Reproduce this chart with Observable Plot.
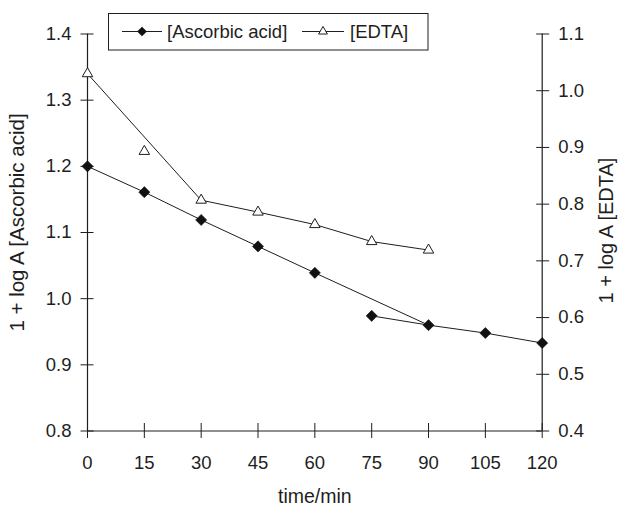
<!DOCTYPE html>
<html>
<head>
<meta charset="utf-8">
<script src="https://cdn.jsdelivr.net/npm/d3@7"></script>
<script src="https://cdn.jsdelivr.net/npm/@observablehq/plot@0.6"></script>
<style>
  body { margin: 0; background: white; }
  #wrap { position: relative; width: 619px; height: 506px; }
  #legend { position: absolute; left: 0; top: 0; }
</style>
</head>
<body>
<div id="wrap"></div>
<script>
// ---- data ----
const times = [0, 15, 30, 45, 60, 75, 90, 105, 120];
const ascorbic = [1.200, 1.161, 1.119, 1.079, 1.039, 0.974, 0.960, 0.948, 0.933];
const edtaTimes = [0, 15, 30, 45, 60, 75, 90];
const edta = [1.030, 0.893, 0.807, 0.786, 0.764, 0.734, 0.719];
// times joined by each drawn line segment
const ascorbicLine1 = [0, 15, 30, 45, 60, 90];
const ascorbicLine2 = [75, 90, 105, 120];
const edtaLine1 = [0, 30];
const edtaLine2 = [30, 45, 60, 75, 90];
const xTicks = [0, 15, 30, 45, 60, 75, 90, 105, 120];
const leftTicks = [0.8, 0.9, 1.0, 1.1, 1.2, 1.3, 1.4];
const rightTicks = [0.4, 0.5, 0.6, 0.7, 0.8, 0.9, 1.0, 1.1];
const seriesNames = ["[Ascorbic acid]", "[EDTA]"];

// right axis (0.4–1.1) mapped onto left scale (0.8–1.4)
const toLeft = v => 0.8 + (v - 0.4) * 6 / 7;
const fromLeft = v => 0.4 + (v - 0.8) * 7 / 6;

const ascRows = times.map((t, i) => ({t, v: ascorbic[i]}));
const edRows = edtaTimes.map((t, i) => ({t, v: toLeft(edta[i])}));
const lineRows = [
  ...ascorbicLine1.map(t => ({t, v: ascorbic[times.indexOf(t)], g: "a1"})),
  ...ascorbicLine2.map(t => ({t, v: ascorbic[times.indexOf(t)], g: "a2"})),
  ...edtaLine1.map(t => ({t, v: toLeft(edta[edtaTimes.indexOf(t)]), g: "e1"})),
  ...edtaLine2.map(t => ({t, v: toLeft(edta[edtaTimes.indexOf(t)]), g: "e2"}))
];

const ink = "#1e1e1e";
const font = "'Liberation Sans', Arial, sans-serif";

const chart = Plot.plot({
  width: 619,
  height: 506,
  marginLeft: 87,
  marginRight: 77.3,
  marginTop: 33.5,
  marginBottom: 75.5,
  style: {fontFamily: font, fontSize: "18.5px", color: ink, background: "white"},
  x: {domain: [0, 120]},
  y: {domain: [0.8, 1.4]},
  marks: [
    Plot.ruleX([0, 120], {stroke: ink, strokeWidth: 1.2}),
    Plot.ruleY([0.8], {stroke: ink, strokeWidth: 1.2}),
    Plot.axisY(leftTicks, {anchor: "left", tickSize: 13, dx: 6.5, tickPadding: 9.5,
      tickFormat: d => d.toFixed(1), stroke: ink, fill: ink, label: null}),
    Plot.axisY(rightTicks.map(toLeft), {anchor: "right", tickSize: 13, dx: -6.5, tickPadding: 9.5,
      tickFormat: d => fromLeft(d).toFixed(1), stroke: ink, fill: ink, label: null}),
    Plot.axisX(xTicks, {anchor: "bottom", tickSize: 15, dy: -7.5, tickPadding: 17,
      tickFormat: d => String(d), stroke: ink, fill: ink, label: null}),
    Plot.line(lineRows, {x: "t", y: "v", z: "g", stroke: ink, strokeWidth: 1}),
    Plot.dot(edRows, {x: "t", y: "v", symbol: "triangle2", r: 5, fill: "white", stroke: ink, strokeWidth: 1}),
    Plot.dot(ascRows, {x: "t", y: "v", symbol: "diamond2", r: 5, fill: "#111", stroke: "#111", strokeWidth: 0.6}),
    Plot.text(["1 + log A [Ascorbic acid]"], {text: d => d, frameAnchor: "left", rotate: -90,
      textAnchor: "middle", lineAnchor: "middle", dx: -70.3, dy: -10, fontSize: 20.5, fill: ink}),
    Plot.text(["1 + log A [EDTA]"], {text: d => d, frameAnchor: "right", rotate: -90,
      textAnchor: "middle", lineAnchor: "middle", dx: 64.5, dy: -2, fontSize: 20, fill: ink}),
    Plot.text(["time/min"], {text: d => d, frameAnchor: "bottom", lineAnchor: "middle",
      dy: 66, fontSize: 19.5, fill: ink})
  ]
});

const wrap = document.getElementById("wrap");
wrap.appendChild(chart);

// legend overlay
const svg = d3.select(wrap).append("svg").attr("id", "legend")
  .attr("width", 619).attr("height", 60)
  .style("font-family", font).style("font-size", "18.5px");
svg.append("rect").attr("x", 108.5).attr("y", 13.5).attr("width", 319.5).attr("height", 36.5)
  .attr("fill", "white").attr("stroke", ink).attr("stroke-width", 1);
const cy = 31.5;
svg.append("line").attr("x1", 122).attr("x2", 162).attr("y1", cy).attr("y2", cy).attr("stroke", ink);
svg.append("path").attr("transform", `translate(142,${cy})`)
  .attr("d", d3.symbol(d3.symbolDiamond2, 60)()).attr("fill", "#111");
svg.append("text").attr("x", 167).attr("y", cy).attr("dy", "0.35em").attr("fill", ink).text(seriesNames[0]);
svg.append("line").attr("x1", 302).attr("x2", 344).attr("y1", cy).attr("y2", cy).attr("stroke", ink);
svg.append("path").attr("transform", `translate(323,${cy})`)
  .attr("d", d3.symbol(d3.symbolTriangle2, 55)()).attr("fill", "white").attr("stroke", ink);
svg.append("text").attr("x", 350).attr("y", cy).attr("dy", "0.35em").attr("fill", ink).text(seriesNames[1]);
</script>
</body>
</html>
